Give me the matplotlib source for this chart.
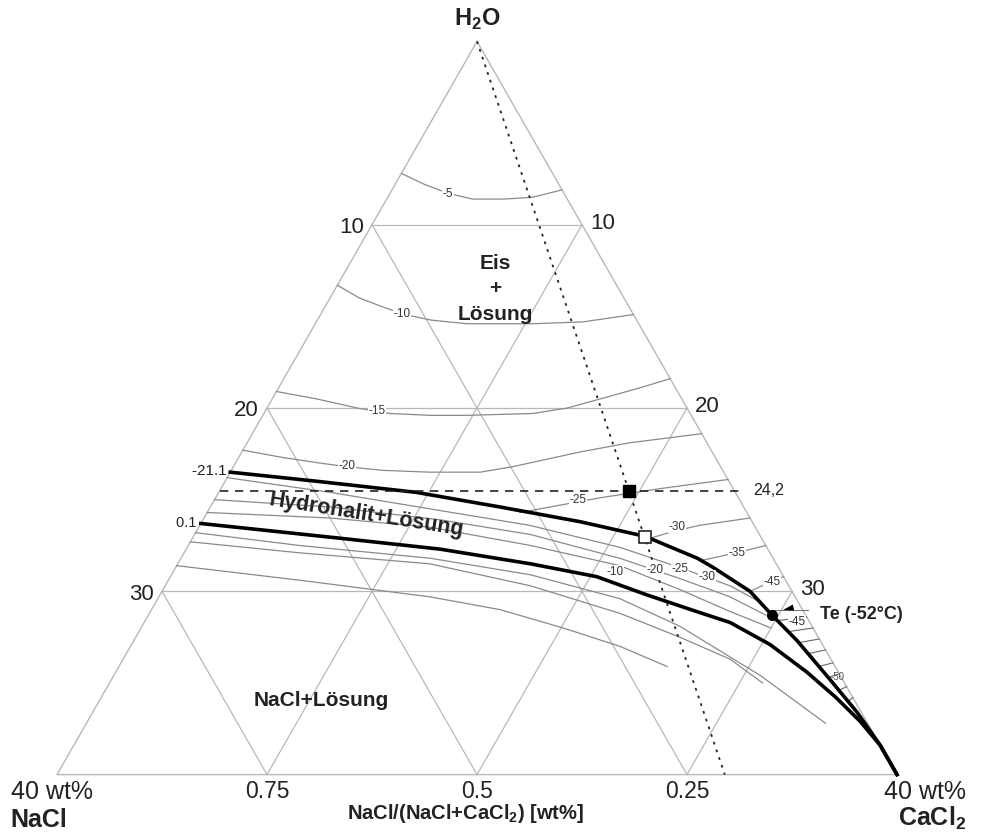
import matplotlib.pyplot as plt
import numpy as np

plt.rcParams['font.family'] = ['Liberation Sans', 'DejaVu Sans']
plt.rcParams['mathtext.fontset'] = 'custom'
plt.rcParams['mathtext.rm'] = 'Liberation Sans'
plt.rcParams['mathtext.bf'] = 'Liberation Sans:bold'

# compositions, wt% NaCl / wt% CaCl2
grid_levels = [10, 20, 30]
ratio_ticks = [0.75, 0.5, 0.25]

# ice isotherms (Eis + Loesung)
ice_iso = {
    -5: ([7.2, 6.4, 5.5, 4.5, 3.0, 1.6, 0.0],
         [0.0, 1.4, 2.8, 4.1, 5.6, 6.9, 8.1]),
    -10: ([13.3, 12.6, 11.7, 10.9, 9.8, 8.2, 6.6, 5.0, 2.6, 0.0],
          [0.0, 1.4, 2.8, 4.0, 5.4, 7.2, 8.8, 10.4, 12.7, 14.9]),
    -15: ([19.1, 17.4, 15.7, 14.3, 12.4, 10.7, 7.5, 5.7, 3.5, 1.7, 0.0],
          [0.0, 2.1, 4.3, 6.0, 8.0, 9.7, 12.8, 14.3, 15.9, 17.2, 18.4]),
    -20: ([22.3, 20.6, 19.0, 17.8, 16.2, 14.0, 11.6, 9.9, 6.3, 3.7, 0.0],
          [0.0, 2.1, 4.0, 5.4, 7.2, 9.5, 11.9, 13.3, 16.1, 18.2, 21.4]),
    -25: ([10.8, 8.7, 6.6, 3.5, 0.0], [14.9, 16.6, 18.3, 20.9, 23.9]),
    -30: ([5.3, 3.9, 2.6, 0.0], [21.8, 22.8, 23.8, 26.0]),
    -35: ([3.4, 1.6, 0.0], [24.9, 26.3, 27.5]),
    -45: ([2.0, 0.8, 0.0], [28.0, 28.7, 29.2]),
}
ice_label_pos = {-5: (-2.76, 8.32), -10: (-7.14, 14.87), -15: (-9.52, 20.16),
                 -20: (-12.38, 23.16), -25: (9.62, 25.01), -30: (19.05, 26.49),
                 -35: (24.76, 27.91), -45: (28.1, 29.49)}

# cotectic ice / hydrohalite, then Te -> CaCl2 corner
ice_hh_nacl = [23.5, 19.6, 15.2, 11.6, 8.2, 5.5, 3.6, 3.1, 2.0, 1.6]
ice_hh_cacl2 = [0.0, 4.4, 9.4, 13.8, 18.0, 21.5, 24.6, 25.6, 28.0, 29.7]
te_cor_nacl = [1.6, 1.1, 0.6, 0.2, 0.0, 0.0]
te_cor_cacl2 = [29.7, 31.6, 34.2, 36.4, 38.4, 40.0]

# cotectic hydrohalite / halite
hh_hl_nacl = [26.3, 20.1, 15.6, 11.7, 8.9, 7.0, 5.1, 3.8, 2.5, 1.5, 0.8, 0.3, 0.0, 0.0]
hh_hl_cacl2 = [0.0, 7.0, 12.1, 16.8, 20.3, 23.2, 26.0, 27.9, 30.4, 32.9, 35.0, 36.8, 38.4, 40.0]

# isotherms in the hydrohalite field
hh_iso = [
    ([23.8, 19.3, 15.0, 10.7, 7.0, 4.7, 2.8, 1.8],
     [0.0, 5.3, 10.5, 15.7, 20.6, 24.0, 26.9, 28.8]),
    ([25.0, 19.7, 14.8, 10.9, 7.3, 5.0, 3.1, 1.9],
     [0.0, 5.7, 11.3, 16.0, 20.9, 24.3, 27.2, 29.4]),
    ([25.7, 20.0, 15.5, 11.2, 7.5, 5.3, 3.5, 2.0],
     [0.0, 6.0, 11.0, 16.3, 21.1, 24.6, 27.6, 30.0]),
]
hh_labels = ['-10', '-20', '-25', '-30']
hh_label_pos = [(13.14, 28.94), (16.95, 28.83), (19.33, 28.78), (21.9, 29.21)]

# isotherms in the halite field
hl_iso = [
    ([26.8, 22.2, 16.3, 12.0, 8.4, 6.3, 3.8, 2.0],
     [0.0, 5.3, 11.9, 17.1, 22.0, 25.6, 30.8, 35.2]),
    ([27.3, 22.4, 16.5, 12.3, 8.8, 6.6, 4.8, 3.9],
     [0.0, 5.5, 12.0, 17.4, 22.4, 25.9, 28.9, 31.1]),
    ([28.6, 23.1, 17.4, 14.4, 11.9, 9.7, 8.0],
     [0.0, 6.3, 12.9, 16.6, 20.1, 23.3, 26.1]),
]

# antarcticite hatching: total salt at the cotectic end and at the CaCl2 side
hatch_s_left = [31.6, 32.2, 32.8, 33.4, 34.1, 34.7, 35.4, 36.0]
hatch_s_right = [31.4, 32.0, 32.6, 33.2, 33.9, 34.5, 35.2, 35.8]

ratio_line = 0.205       # NaCl/(NaCl+CaCl2) of the dotted line
salt_line = 24.5         # dashed line, total salt
te_point = (1.6, 29.7)


def tern(nacl, cacl2):
    nacl = np.asarray(nacl, float)
    cacl2 = np.asarray(cacl2, float)
    return cacl2 - nacl, nacl + cacl2


fig = plt.figure(figsize=(9.81, 8.34), dpi=100)
ax = fig.add_axes([0, 0, 1, 1])
ax.set_xlim(-45.43, 48.0)
ax.set_ylim(43.24, -2.26)
ax.axis('off')

gcol = '#b8b8b8'
ax.plot(*tern([0, 40, 0, 0], [0, 0, 40, 0]), color=gcol, lw=1.0, zorder=1)
for v in grid_levels:
    ax.plot(*tern([v, 0], [0, v]), color=gcol, lw=0.9, zorder=1)
    ax.plot(*tern([v, v], [0, 40 - v]), color=gcol, lw=0.9, zorder=1)
    ax.plot(*tern([0, 40 - v], [v, v]), color=gcol, lw=0.9, zorder=1)
    ax.annotate(str(v), tern(v, 0), xytext=(-6, -2), textcoords='offset points',
                ha='right', va='center', fontsize=16, color='#222')
    ax.annotate(str(v), tern(0, v), xytext=(6, 1), textcoords='offset points',
                ha='left', va='center', fontsize=16, color='#222')

icol = '#8a8a8a'
lab_kw = dict(fontsize=8.5, color='#333', ha='center', va='center', zorder=5,
              bbox=dict(fc='white', ec='none', pad=0.3))
for t, (a, c) in ice_iso.items():
    ax.plot(*tern(a, c), color=icol, lw=0.9, zorder=2)
    ax.text(*ice_label_pos[t], str(t), **lab_kw)
for a, c in hh_iso + hl_iso:
    ax.plot(*tern(a, c), color=icol, lw=0.9, zorder=2)
for lab, pos in zip(hh_labels, hh_label_pos):
    ax.text(*pos, lab, **lab_kw)

bound_s = np.add(te_cor_nacl, te_cor_cacl2)
for sl, sr in zip(hatch_s_left, hatch_s_right):
    a = np.interp(sl, bound_s, te_cor_nacl)
    ax.plot(*tern([a, 0], [sl - a, sr]), color='#666', lw=0.8, zorder=2)
ax.text(30.48, 31.67, '-45', **lab_kw)
ax.text(34.3, 34.67, '-50', fontsize=7, color='#555', ha='center', va='center')

ax.plot(*tern(ice_hh_nacl, ice_hh_cacl2), color='k', lw=2.6, zorder=3)
ax.plot(*tern(te_cor_nacl, te_cor_cacl2), color='k', lw=2.6, zorder=3)
ax.plot(*tern(hh_hl_nacl, hh_hl_cacl2), color='k', lw=2.6, zorder=3)

# dotted ratio line and dashed salinity line
ax.plot(*tern([0, ratio_line * 40], [0, (1 - ratio_line) * 40]), color='#222',
        lw=1.3, ls=(0, (1.5, 3)), zorder=3)
xl, yl = tern(salt_line, 0)
xr, yr = tern(0, salt_line)
ax.plot([xl, xr + 0.8], [yl, yr], color='#222', lw=1.2, ls=(0, (5, 4)), zorder=3)
ax.text(xr + 1.8, yr, '24,2', fontsize=11.5, color='#222', ha='left', va='center')

ax.plot(*tern(ratio_line * salt_line, (1 - ratio_line) * salt_line), 's',
        color='k', ms=8, zorder=6)
s_open = 27.05
ax.plot(*tern(ratio_line * s_open, (1 - ratio_line) * s_open), 's', mfc='white',
        mec='#222', ms=8, mew=1.2, zorder=6)
tx, ty = tern(*te_point)
ax.plot(tx, ty, 'o', color='k', ms=7, zorder=6)
ax.plot([tx, tx + 3.4], [ty - 0.3, ty - 0.3], color='#777', lw=0.8, zorder=2)
ax.annotate('', xy=(tx + 0.8, ty - 0.25), xytext=(tx + 2.3, ty - 0.45),
            arrowprops=dict(arrowstyle='wedge,tail_width=0.45', color='k', lw=0),
            zorder=6)
ax.text(tx + 4.6, ty - 0.05, 'Te (-52°C)', fontsize=13, fontweight='bold',
        color='#222', ha='left', va='center')

ax.text(*tern(23.45, 0), '-21.1 ', fontsize=11, color='#222', ha='right', va='center')
ax.text(*tern(26.3, 0), '0.1 ', fontsize=10.5, color='#222', ha='right', va='center')

ax.text(1.7, 13.5, 'Eis\n+\nLösung', fontsize=15, fontweight='bold', color='#222',
        ha='center', va='center', linespacing=1.45)
ax.text(-10.57, 25.83, 'Hydrohalit+Lösung', fontsize=15.5, fontweight='bold',
        color='#222', ha='center', va='center', rotation=-9)
ax.text(-14.86, 35.93, 'NaCl+Lösung', fontsize=15, fontweight='bold', color='#222',
        ha='center', va='center')

ax.text(0, -1.2, r'H$_\mathbf{2}$O', fontsize=17, fontweight='bold', color='#222',
        ha='center', va='center')
for r in ratio_ticks:
    ax.text(*tern(r * 40, (1 - r) * 40) + np.array([0, 0.9]), str(r), fontsize=16.5,
            color='#222', ha='center', va='center')
ax.text(-44.4, 40.94, '40 wt%', fontsize=18, color='#222', ha='left', va='center')
ax.text(-44.4, 42.45, 'NaCl', fontsize=18, fontweight='bold', color='#222',
        ha='left', va='center')
ax.text(46.6, 40.94, '40 wt%', fontsize=18, color='#222', ha='right', va='center')
ax.text(46.6, 42.4, r'CaCl$_\mathbf{2}$', fontsize=18, fontweight='bold',
        color='#222', ha='right', va='center')
ax.text(-1.1, 42.1, r'NaCl/(NaCl+CaCl$_\mathbf{2}$) [wt%]', fontsize=14.5,
        fontweight='bold', color='#222', ha='center', va='center')

fig.savefig('out.png', dpi=100)
